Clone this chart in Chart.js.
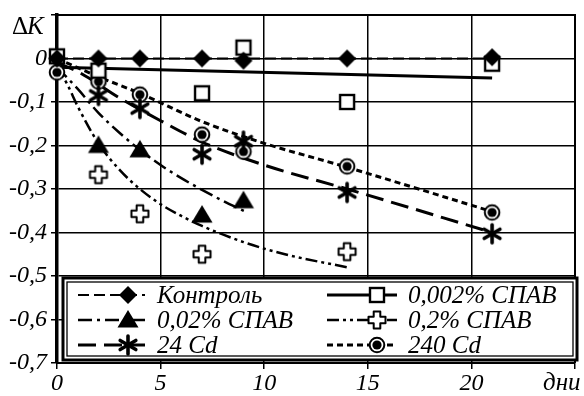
<!DOCTYPE html>
<html>
<head>
<meta charset="utf-8">
<script src="https://cdn.jsdelivr.net/npm/chart.js@4.4.0/dist/chart.umd.min.js"></script>
<style>
  body { margin: 0; background: #fff; }
  canvas { display: block; }
</style>
</head>
<body>
<canvas id="chart" width="584" height="396"></canvas>
<script>
// measured points
var kontrolX = [0, 2, 4, 7, 9, 14, 21];
var kontrolY = [0, 0, 0, 0, -0.005, 0, 0.003];
var spav002X = [0, 2, 7, 9, 14, 21];
var spav002Y = [0.005, -0.028, -0.08, 0.025, -0.1, -0.012];
var spav02X = [2, 4, 7, 9];
var spav02Y = [-0.2, -0.21, -0.36, -0.327];
var spav2X = [2, 4, 7, 14];
var spav2Y = [-0.267, -0.357, -0.45, -0.444];
var cd24X = [2, 4, 7, 9, 14, 21];
var cd24Y = [-0.085, -0.115, -0.22, -0.19, -0.308, -0.403];
var cd240X = [0, 2, 4, 7, 9, 14, 21];
var cd240Y = [-0.032, -0.053, -0.083, -0.175, -0.214, -0.248, -0.354];

// trend curves
var kontrolTrendX = [0, 21];
var kontrolTrendY = [0, 0];
var spav002TrendX = [0, 21];
var spav002TrendY = [-0.02, -0.045];
var spav02TrendX = [0, 1, 2, 3, 4, 5, 6, 7, 8, 9.1];
var spav02TrendY = [-0.02, -0.07, -0.125, -0.17, -0.21, -0.245, -0.275, -0.302, -0.327, -0.352];
var spav2TrendX = [0, 0.5, 1, 2, 3, 4, 5, 6, 7, 9, 11, 14];
var spav2TrendY = [-0.02, -0.06, -0.11, -0.195, -0.255, -0.3, -0.335, -0.362, -0.385, -0.422, -0.45, -0.48];
var cd24TrendX = [0, 1, 3, 5, 7, 10, 14, 21];
var cd24TrendY = [-0.01, -0.03, -0.09, -0.143, -0.192, -0.245, -0.3, -0.4];
var cd240TrendX = [0, 2, 4, 7, 10, 14, 21];
var cd240TrendY = [0, -0.042, -0.08, -0.145, -0.195, -0.25, -0.352];

var labels = ["Контроль", "0,002% СПАВ", "0,02% СПАВ", "0,2% СПАВ", "24 Cd", "240 Cd"];
var xTicks = [0, 5, 10, 15, 20];

var serif = "'Liberation Serif', 'DejaVu Serif', serif";

function pts(xs, ys) {
  return xs.map(function (x, i) { return { x: x, y: ys[i] }; });
}

function marker(size, draw) {
  var c = document.createElement('canvas');
  c.width = size; c.height = size;
  var g = c.getContext('2d');
  g.translate(size / 2, size / 2);
  draw(g);
  return c;
}

var mDiamond = marker(20, function (g) {
  g.beginPath();
  g.moveTo(0, -9); g.lineTo(9, 0); g.lineTo(0, 9); g.lineTo(-9, 0);
  g.closePath();
  g.fillStyle = '#000'; g.fill();
});
var mSquare = marker(20, function (g) {
  g.fillStyle = '#fff'; g.fillRect(-7, -7, 14, 14);
  g.lineWidth = 2.4; g.strokeStyle = '#000'; g.strokeRect(-7, -7, 14, 14);
});
var mTriangle = marker(24, function (g) {
  g.beginPath();
  g.moveTo(0, -10); g.lineTo(10.5, 7.5); g.lineTo(-10.5, 7.5);
  g.closePath();
  g.fillStyle = '#000'; g.fill();
});
var mPlus = marker(24, function (g) {
  var a = 3.3, L = 8.5;
  g.beginPath();
  g.moveTo(-a, -L); g.lineTo(a, -L); g.lineTo(a, -a); g.lineTo(L, -a);
  g.lineTo(L, a); g.lineTo(a, a); g.lineTo(a, L); g.lineTo(-a, L);
  g.lineTo(-a, a); g.lineTo(-L, a); g.lineTo(-L, -a); g.lineTo(-a, -a);
  g.closePath();
  g.fillStyle = '#fff'; g.fill();
  g.lineJoin = 'round'; g.lineWidth = 2; g.strokeStyle = '#000'; g.stroke();
});
var mStar = marker(24, function (g) {
  g.strokeStyle = '#000'; g.lineWidth = 3.6; g.lineCap = 'round';
  for (var k = 0; k < 6; k++) {
    var ang = (30 + 60 * k) * Math.PI / 180;
    g.beginPath();
    g.moveTo(0, 0);
    g.lineTo(Math.cos(ang) * 9, Math.sin(ang) * 9);
    g.stroke();
  }
});
var mCircle = marker(20, function (g) {
  g.beginPath(); g.arc(0, 0, 7.3, 0, Math.PI * 2);
  g.fillStyle = '#fff'; g.fill();
  g.lineWidth = 2; g.strokeStyle = '#000'; g.stroke();
  g.beginPath(); g.arc(0, 0, 4.6, 0, Math.PI * 2);
  g.fillStyle = '#000'; g.fill();
});

var styles = [
  { dash: [11, 5], width: 2, marker: mDiamond },
  { dash: [], width: 3, marker: mSquare },
  { dash: [14, 5, 3, 5], width: 2.5, marker: mTriangle },
  { dash: [12, 4, 3, 4, 3, 4], width: 2.5, marker: mPlus },
  { dash: [18, 8], width: 3, marker: mStar },
  { dash: [6, 4], width: 3, marker: mCircle }
];

var trendData = [
  pts(kontrolTrendX, kontrolTrendY),
  pts(spav002TrendX, spav002TrendY),
  pts(spav02TrendX, spav02TrendY),
  pts(spav2TrendX, spav2TrendY),
  pts(cd24TrendX, cd24TrendY),
  pts(cd240TrendX, cd240TrendY)
];
var pointData = [
  pts(kontrolX, kontrolY),
  pts(spav002X, spav002Y),
  pts(spav02X, spav02Y),
  pts(spav2X, spav2Y),
  pts(cd24X, cd24Y),
  pts(cd240X, cd240Y)
];

var datasets = [];
labels.forEach(function (lab, i) {
  datasets.push({
    label: lab + ' trend',
    data: trendData[i],
    showLine: true,
    borderColor: '#000',
    borderWidth: styles[i].width,
    borderDash: styles[i].dash,
    pointRadius: 0,
    cubicInterpolationMode: 'monotone',
    order: 10
  });
});
labels.forEach(function (lab, i) {
  datasets.push({
    label: lab,
    data: pointData[i],
    showLine: false,
    pointStyle: styles[i].marker,
    pointRadius: 8,
    clip: false,
    order: 1
  });
});

var overlay = {
  id: 'overlay',
  afterDraw: function (chart) {
    var ctx = chart.ctx;
    var a = chart.chartArea;
    ctx.save();
    // top and right frame
    ctx.strokeStyle = '#000';
    ctx.lineWidth = 2;
    ctx.beginPath();
    ctx.moveTo(a.left, a.top); ctx.lineTo(a.right, a.top); ctx.lineTo(a.right, a.bottom);
    ctx.stroke();

    // legend box
    var bx = 63, by = 278, bw = 514, bh = 82;
    ctx.fillStyle = '#fff';
    ctx.fillRect(bx, by, bw, bh);
    ctx.lineWidth = 3;
    ctx.strokeRect(bx, by, bw, bh);
    ctx.lineWidth = 1.3;
    ctx.strokeRect(bx + 4, by + 4, bw - 8, bh - 8);

    var rows = [295, 320, 345];
    var cols = [{ x0: 78, x1: 145, m: 128, t: 157 }, { x0: 327, x1: 397, m: 377, t: 408 }];
    ctx.font = 'italic 25px ' + serif;
    ctx.textBaseline = 'middle';
    ctx.textAlign = 'left';
    labels.forEach(function (lab, i) {
      var c = cols[i % 2], y = rows[Math.floor(i / 2)];
      var s = styles[i];
      ctx.setLineDash(s.dash);
      ctx.lineWidth = s.width;
      ctx.beginPath(); ctx.moveTo(c.x0, y); ctx.lineTo(c.x1, y); ctx.stroke();
      ctx.setLineDash([]);
      ctx.drawImage(s.marker, c.m - s.marker.width / 2, y - s.marker.height / 2);
      ctx.fillStyle = '#000';
      ctx.fillText(lab, c.t, y + 1);
    });

    // axis captions
    ctx.textBaseline = 'alphabetic';
    ctx.font = '25px ' + serif;
    ctx.fillText('Δ', 12, 34);
    ctx.font = 'italic 25px ' + serif;
    ctx.fillText('K', 27, 34);
    ctx.fillText('дни', 543, 390);
    ctx.restore();
  }
};

var tickFont = { family: serif, size: 24, style: 'italic' };

new Chart(document.getElementById('chart'), {
  type: 'scatter',
  data: { datasets: datasets },
  options: {
    responsive: false,
    animation: false,
    devicePixelRatio: 1,
    layout: { padding: { top: 15, right: 2, left: 0, bottom: 0 } },
    plugins: { legend: { display: false }, tooltip: { enabled: false } },
    scales: {
      x: {
        type: 'linear',
        min: 0,
        max: 25,
        afterFit: function (s) { s.height = 33; s.paddingLeft = 0; s.paddingRight = 0; },
        ticks: {
          stepSize: 5,
          maxRotation: 0,
          autoSkip: false,
          padding: 0,
          color: '#000',
          font: tickFont,
          callback: function (v) { return xTicks.indexOf(v) >= 0 ? String(v) : ''; }
        },
        grid: { color: '#000', lineWidth: 1.5, tickLength: 6, tickColor: '#000', tickWidth: 1.5 },
        border: { color: '#000', width: 2 }
      },
      y: {
        min: -0.7,
        max: 0.1,
        afterFit: function (s) { s.width = 57; s.paddingTop = 0; s.paddingBottom = 0; },
        ticks: {
          stepSize: 0.1,
          padding: 4,
          color: '#000',
          font: tickFont,
          callback: function (v) {
            var r = Math.round(v * 10) / 10;
            if (r > 0) return '';
            if (r === 0) return '0';
            return r.toFixed(1).replace('.', ',');
          }
        },
        grid: { color: '#000', lineWidth: 1.5, tickLength: 6, tickColor: '#000', tickWidth: 1.5 },
        border: { color: '#000', width: 3.5 }
      }
    }
  },
  plugins: [overlay]
});
</script>
</body>
</html>
